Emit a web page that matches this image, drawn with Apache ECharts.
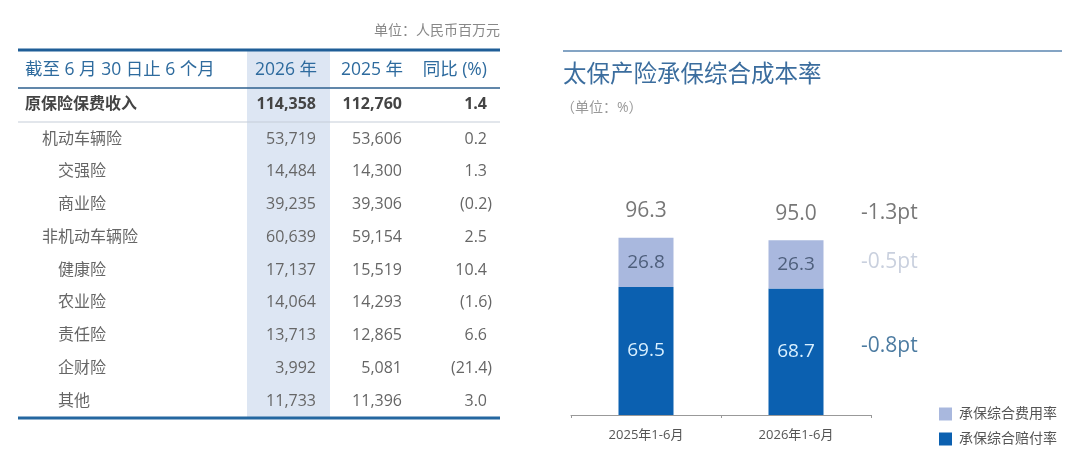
<!DOCTYPE html>
<html>
<head>
<meta charset="utf-8">
<script src="https://cdn.jsdelivr.net/npm/echarts@6/dist/echarts.min.js"></script>
<style>
  html, body { margin: 0; padding: 0; background: #fff; }
  #main { width: 1080px; height: 455px; }
</style>
</head>
<body>
<div id="main"></div>
<script>
var FONT = '"Open Sans", "Noto Sans CJK SC", sans-serif';

// table data
var tableUnit = '单位：人民币百万元';
var tableHead = ['截至 6 月 30 日止 6 个月', '2026 年', '2025 年', '同比 (%)'];
var rowNames = ['原保险保费收入', '机动车辆险', '交强险', '商业险', '非机动车辆险',
    '健康险', '农业险', '责任险', '企财险', '其他'];
var rowLevel = [0, 1, 2, 2, 1, 2, 2, 2, 2, 2];
var val2026 = ['114,358', '53,719', '14,484', '39,235', '60,639', '17,137', '14,064', '13,713', '3,992', '11,733'];
var val2025 = ['112,760', '53,606', '14,300', '39,306', '59,154', '15,519', '14,293', '12,865', '5,081', '11,396'];
var yoy = ['1.4', '0.2', '1.3', '(0.2)', '2.5', '10.4', '(1.6)', '6.6', '(21.4)', '3.0'];

// chart data
var chartTitle = '太保产险承保综合成本率';
var chartUnit = '（单位：%）';
var categories = ['2025年1-6月', '2026年1-6月'];
var expenseRatio = [26.8, 26.3];
var lossRatio = [69.5, 68.7];
var totals = [96.3, 95.0];
var changes = ['-1.3pt', '-0.5pt', '-0.8pt'];

var dom = document.getElementById('main');
var myChart = echarts.init(dom, null, { renderer: 'canvas' });

// build the table with graphic elements
var g = [];
g.push({
    type: 'text', x: 500, y: 31,
    style: { text: tableUnit, fill: '#888', font: '14px ' + FONT, align: 'right', verticalAlign: 'middle' }
});
g.push({
    type: 'rect', shape: { x: 247, y: 50, width: 83, height: 368 },
    style: { fill: '#dde6f3' }, z: 0
});
g.push({ type: 'line', shape: { x1: 18, y1: 50, x2: 500, y2: 50 }, style: { stroke: '#1f5e97', lineWidth: 3 } });
g.push({ type: 'line', shape: { x1: 18, y1: 88, x2: 500, y2: 88 }, style: { stroke: '#2d5f8e', lineWidth: 1.5 } });
g.push({ type: 'line', shape: { x1: 18, y1: 122, x2: 500, y2: 122 }, style: { stroke: '#c5cdd8', lineWidth: 1 } });
g.push({ type: 'line', shape: { x1: 18, y1: 418, x2: 500, y2: 418 }, style: { stroke: '#2467a0', lineWidth: 3 } });

var colRight = [316, 402, 487];
var headStyle = { fill: '#2e6b9e', font: '17.5px ' + FONT, verticalAlign: 'middle' };
g.push({ type: 'text', x: 25, y: 70, style: Object.assign({ text: tableHead[0], align: 'left' }, headStyle) });
g.push({ type: 'text', x: 286, y: 70, style: Object.assign({ text: tableHead[1], align: 'center' }, headStyle) });
g.push({ type: 'text', x: 372, y: 70, style: Object.assign({ text: tableHead[2], align: 'center' }, headStyle) });
g.push({ type: 'text', x: 487, y: 70, style: Object.assign({ text: tableHead[3], align: 'right' }, headStyle) });

var indent = [25, 42, 58];
rowNames.forEach(function (name, i) {
    var y = i === 0 ? 104 : 139 + (i - 1) * 32.75;
    var bold = i === 0;
    var font = (bold ? 'bold ' : '') + '16px ' + FONT;
    var fill = bold ? '#444' : '#666';
    g.push({ type: 'text', x: indent[rowLevel[i]], y: y,
        style: { text: name, fill: fill, font: font, align: 'left', verticalAlign: 'middle' }, z: 2 });
    [val2026[i], val2025[i], yoy[i]].forEach(function (v, c) {
        var x = colRight[c] + (v.charAt(v.length - 1) === ')' ? 5 : 0);
        g.push({ type: 'text', x: x, y: y,
            style: { text: v, fill: fill, font: font, align: 'right', verticalAlign: 'middle' }, z: 2 });
    });
});

// chart header
g.push({ type: 'line', shape: { x1: 563, y1: 51, x2: 1062, y2: 51 }, style: { stroke: '#5b86b0', lineWidth: 1.5 } });
g.push({ type: 'text', x: 563, y: 75,
    style: { text: chartTitle, fill: '#3b6d9e', font: '23.5px ' + FONT, verticalAlign: 'middle' } });
g.push({ type: 'text', x: 561, y: 108,
    style: { text: chartUnit, fill: '#999', font: '14px ' + FONT, verticalAlign: 'middle' } });

var changeColors = ['#555', '#bcc4d6', '#1f5a8a'];
var changePoints = [
    [1, totals[1]],
    [1, lossRatio[1] + expenseRatio[1] / 2],
    [1, lossRatio[1] / 2]
];

var option = {
    backgroundColor: '#fff',
    animation: false,
    textStyle: { fontFamily: FONT },
    graphic: g,
    grid: { left: 571, right: 209, top: 231, bottom: 40 },
    legend: {
        left: 934, top: 402, orient: 'vertical',
        itemWidth: 13, itemHeight: 13, itemGap: 11,
        icon: 'rect',
        data: ['承保综合费用率', '承保综合赔付率'],
        textStyle: { color: '#555', fontSize: 14, fontFamily: FONT, padding: [0, 0, 0, 2] }
    },
    xAxis: {
        type: 'category',
        data: categories,
        axisLine: { lineStyle: { color: '#999' } },
        axisTick: { show: true, length: 3, lineStyle: { color: '#999' } },
        axisLabel: { color: '#555', fontSize: 13, margin: 14, fontFamily: FONT }
    },
    yAxis: {
        type: 'value', min: 0, max: 100, show: false,
        splitLine: { show: false }
    },
    series: [
        {
            name: '承保综合赔付率', type: 'bar', stack: 'cost',
            data: lossRatio, barWidth: 55,
            itemStyle: { color: '#0b60b0' },
            label: { show: true, position: 'inside', color: '#d9f0ff', fontSize: 19, fontFamily: FONT }
        },
        {
            name: '承保综合费用率', type: 'bar', stack: 'cost',
            data: expenseRatio, barWidth: 55,
            itemStyle: { color: '#a9b8de' },
            label: { show: true, position: 'inside', color: '#4e5f7c', fontSize: 19, fontFamily: FONT }
        },
        {
            name: 'total', type: 'scatter', symbolSize: 0, silent: true,
            data: totals.map(function (t, i) { return [i, t]; }),
            label: {
                show: true, position: 'top', distance: 16,
                color: '#555', fontSize: 21, fontFamily: FONT,
                formatter: function (p) { return totals[p.dataIndex].toFixed(1); }
            }
        },
        {
            name: 'change', type: 'scatter', symbolSize: 0, silent: true,
            data: changePoints.map(function (pt, i) {
                return {
                    value: pt,
                    label: {
                        color: changeColors[i],
                        offset: i === 0 ? [0, -27] : (i === 2 ? [0, -6] : [0, -2])
                    }
                };
            }),
            label: {
                show: true, position: 'right', distance: 65,
                fontSize: 21, fontFamily: FONT,
                formatter: function (p) { return changes[p.dataIndex]; }
            }
        }
    ]
};

myChart.setOption(option);
window.addEventListener('resize', myChart.resize);
</script>
</body>
</html>
